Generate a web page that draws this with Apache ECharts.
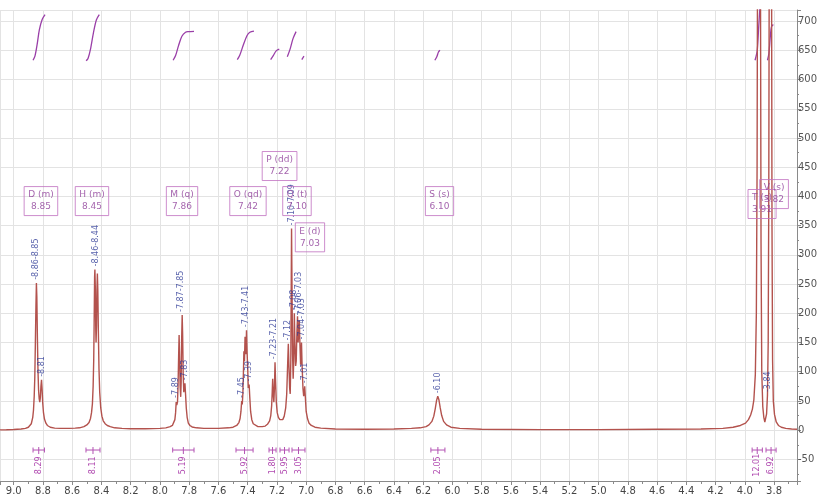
<!DOCTYPE html>
<html><head><meta charset="utf-8">
<script src="https://cdn.jsdelivr.net/npm/echarts@6.0.0/dist/echarts.min.js"></script>
<style>html,body{margin:0;padding:0;background:#fff}#c{width:821px;height:499px}</style>
</head><body><div id="c"></div>
<script>
// ---------- spectrum (ppm, intensity) ----------
const baseLeft = [[9.094,0.5],[9.05,0.8],[9.00,1.2],[8.95,2]];
const multD = [[8.92,3],[8.90,5],[8.88,11],[8.87,22],[8.865,34],[8.86,58],[8.856,90],[8.852,150],[8.848,215],[8.845,252],[8.842,228],[8.838,155],[8.834,100],[8.83,68],[8.826,54],[8.822,48],[8.818,56],[8.814,75],[8.81,86],[8.806,70],[8.802,47],[8.797,31],[8.79,19],[8.78,12],[8.77,8],[8.75,5],[8.72,3.5],[8.68,3],[8.62,3],[8.58,3.5]];
const multH = [[8.55,4],[8.52,6],[8.50,9],[8.485,13],[8.475,20],[8.468,30],[8.462,45],[8.457,75],[8.453,120],[8.45,185],[8.447,262],[8.445,275],[8.442,242],[8.439,172],[8.437,150],[8.434,178],[8.431,240],[8.428,268],[8.425,240],[8.421,165],[8.417,105],[8.412,65],[8.405,38],[8.397,24],[8.388,16],[8.375,11],[8.36,8],[8.34,6],[8.31,4],[8.26,3],[8.20,2.5],[8.10,2.5],[8.00,3],[7.96,4]];
const multM = [[7.93,6],[7.915,8],[7.905,11],[7.898,18],[7.893,30],[7.889,48],[7.885,43],[7.88,48],[7.876,78],[7.872,130],[7.869,163],[7.866,128],[7.862,75],[7.858,57],[7.855,82],[7.852,150],[7.848,197],[7.845,165],[7.841,95],[7.837,65],[7.833,68],[7.829,80],[7.825,62],[7.82,38],[7.814,22],[7.806,12],[7.795,8],[7.78,5.5],[7.75,4],[7.70,3],[7.60,3],[7.53,4]];
const multO = [[7.50,5],[7.475,8],[7.46,13],[7.452,20],[7.446,32],[7.441,50],[7.437,44],[7.433,62],[7.429,100],[7.426,135],[7.422,118],[7.418,160],[7.414,130],[7.411,140],[7.408,171],[7.404,132],[7.40,108],[7.396,72],[7.393,70],[7.39,78],[7.386,58],[7.38,32],[7.372,18],[7.362,11],[7.35,8],[7.33,6],[7.30,6],[7.28,7]];
const multP = [[7.265,10],[7.25,16],[7.242,25],[7.236,42],[7.232,66],[7.229,88],[7.225,63],[7.221,48],[7.217,72],[7.213,116],[7.209,82],[7.204,47],[7.198,30],[7.19,22],[7.18,18],[7.17,17]];
const multQE = [[7.16,18],[7.15,24],[7.14,38],[7.133,62],[7.127,110],[7.122,148],[7.118,112],[7.113,72],[7.109,62],[7.105,120],[7.102,255],[7.10,345],[7.097,250],[7.093,130],[7.089,88],[7.085,118],[7.081,200],[7.077,150],[7.072,110],[7.068,118],[7.063,170],[7.059,195],[7.055,150],[7.051,150],[7.047,188],[7.043,150],[7.038,112],[7.035,125],[7.032,150],[7.028,112],[7.022,72],[7.017,58],[7.013,66],[7.01,75],[7.006,58],[7.00,32],[6.99,19],[6.98,12],[6.965,8],[6.94,5],[6.90,3.5],[6.80,2],[6.60,1.5],[6.40,2],[6.28,3]];
const multS = [[6.22,4],[6.18,6],[6.16,9],[6.14,15],[6.127,24],[6.117,37],[6.108,51],[6.10,58],[6.092,52],[6.083,38],[6.073,25],[6.06,15],[6.04,9],[6.01,5],[5.95,3],[5.80,1.5],[5.40,1],[5.00,1],[4.60,1.5],[4.30,2]];
const multTV = [[4.15,3],[4.08,5],[4.03,8],[3.995,12],[3.975,18],[3.96,26],[3.948,36],[3.938,52],[3.928,95],[3.921,200],[3.916,450],[3.913,800],[3.909,1300],[3.903,1600],[3.897,1300],[3.893,800],[3.889,320],[3.884,100],[3.877,40],[3.87,22],[3.863,14],[3.857,16],[3.851,28],[3.845,60],[3.84,150],[3.836,400],[3.833,800],[3.829,1300],[3.825,1500],[3.821,1300],[3.817,800],[3.814,350],[3.81,120],[3.805,50],[3.797,27],[3.785,14],[3.77,8],[3.75,5],[3.72,3],[3.68,2],[3.643,1.5]];

// ---------- integral curves ----------
const intD = [[8.868,633],[8.855,640],[8.84,660],[8.825,685],[8.805,703],[8.786,711]];
const intH = [[8.505,632],[8.492,636],[8.475,652],[8.455,680],[8.435,702],[8.415,711]];
const intM = [[7.91,633],[7.893,641],[7.873,658],[7.85,674],[7.825,681],[7.805,682],[7.767,682.5]];
const intO = [[7.471,634],[7.455,641],[7.43,659],[7.405,675],[7.385,681],[7.357,683]];
const intP = [[7.243,634],[7.225,641],[7.205,649],[7.184,652]];
const intQ = [[7.129,639],[7.11,652],[7.09,670],[7.069,682]];
const intE = [[7.03,634],[7.015,640]];
const intS = [[6.12,633],[6.105,640],[6.095,647],[6.085,650]];
const intT = [[3.93,633],[3.915,650],[3.905,690],[3.895,730]];
const intV = [[3.845,633],[3.835,645],[3.825,675],[3.818,690],[3.805,694]];

// ---------- integration ranges and values ----------
const intRanges = [[8.868,8.79],[8.506,8.41],[7.913,7.767],[7.48,7.363],[7.254,7.206],[7.179,7.117],[7.097,7.008],[6.147,6.051],[3.95,3.88],[3.855,3.786]];
const intValues = ['8.29','8.11','5.19','5.92','1.80','5.95','3.05','2.05','12.01','6.92'];

// ---------- peak labels ----------
const peakPpm = [8.846,8.81,8.437,7.889,7.858,7.829,7.441,7.412,7.39,7.221,7.122,7.100,7.081,7.047,7.032,7.010,6.10,3.84];
const peakHeight = [252,86,275,50,197,80,50,171,78,116,148,345,200,195,150,75,58,60];
const peakText = ['-8.86-8.85','-8.81','-8.46-8.44','-7.89','-7.87-7.85','-7.83','-7.45','-7.43-7.41','-7.39','-7.23-7.21','-7.12','-7.10-7.09','-7.08','-7.06-7.03','-7.04-7.03','-7.01','-6.10','-3.84'];

// ---------- multiplets ----------
const multNames = ['D (m)','H (m)','M (q)','O (qd)','P (dd)','Q (t)','E (d)','S (s)','T (s)','V (s)'];
const multShifts = ['8.85','8.45','7.86','7.42','7.22','7.10','7.03','6.10','3.91','3.82'];

// ---------- axis ticks ----------
const xTickStep = 0.2;
const yTickStep = 50;

// layout (label box anchors, in axis units)
const boxAnchor = [[8.814,392],[8.465,392],[7.849,392],[7.398,392],[7.182,452],[7.063,392],[6.974,330],[6.088,392],[3.882,387],[3.800,404]];
const BRACKET_V = -34, LABEL_V = -60;

const spectrum = [].concat(baseLeft, multD, multH, multM, multO, multP, multQE, multS, multTV);
const integrals = [intD,intH,intM,intO,intP,intQ,intE,intS,intT,intV];

const FONT = 'DejaVu Sans';
const chart = echarts.init(document.getElementById('c'));
const series = [{
  type:'line', data: spectrum, showSymbol:false, symbol:'none', clip:true, z:3,
  lineStyle:{color:'#b3524d', width:1.4}, animation:false
}];
integrals.forEach(d => series.push({
  type:'line', data:d, showSymbol:false, symbol:'none', clip:true, smooth:0.3, z:2,
  lineStyle:{color:'#9a3fa8', width:1.3}, animation:false
}));
series.push({
  type:'custom', data: intRanges, z:4, animation:false,
  renderItem: function(params, api){
    const a = api.coord([api.value(0), BRACKET_V]);
    const b = api.coord([api.value(1), BRACKET_V]);
    const y = a[1], xm = (a[0]+b[0])/2;
    const l = api.coord([(api.value(0)+api.value(1))/2, LABEL_V]);
    const st = {stroke:'#b352b3', lineWidth:1};
    return {type:'group', children:[
      {type:'line', shape:{x1:a[0],y1:y,x2:b[0],y2:y}, style:st},
      {type:'line', shape:{x1:a[0],y1:y-2.5,x2:a[0],y2:y+2.5}, style:st},
      {type:'line', shape:{x1:b[0],y1:y-2.5,x2:b[0],y2:y+2.5}, style:st},
      {type:'line', shape:{x1:xm,y1:y-3,x2:xm,y2:y+4}, style:st},
      {type:'text', x:l[0], y:l[1], rotation:Math.PI/2,
       style:{text:intValues[params.dataIndex], fill:'#b04ab0', font:'8px '+FONT, align:'center', verticalAlign:'middle'}}
    ]};
  }
});
series.push({
  type:'scatter', data: peakPpm.map((p,i)=>[p, peakHeight[i]]), symbolSize:0.1, z:5, animation:false,
  label:{show:true, position:'top', distance:3, rotate:90, align:'left', verticalAlign:'middle',
    formatter: p => peakText[p.dataIndex], fontSize:8, color:'#2d3a96', fontFamily:FONT}
});
series.push({
  type:'scatter', data: boxAnchor, symbolSize:0.1, z:6, animation:false,
  label:{show:true, position:'inside', formatter: p => multNames[p.dataIndex]+'\n'+multShifts[p.dataIndex],
    fontSize:9, lineHeight:12, color:'#8d3c99', fontFamily:FONT, align:'center', verticalAlign:'middle',
    borderColor:'#c070c0', borderWidth:1, padding:[3,4,2,4]}
});

chart.setOption({
  animation:false,
  backgroundColor:'#fff',
  grid:{left:0, right:24, top:10, bottom:18, containLabel:false, outerBoundsMode:'none'},
  xAxis:{type:'value', inverse:true, min:3.643, max:9.094, splitNumber: Math.round((9.094-3.643)/xTickStep),
    axisLine:{show:true, onZero:false, lineStyle:{color:'#8a8a8a'}},
    axisTick:{show:true, length:4, lineStyle:{color:'#8a8a8a'}},
    minorTick:{show:true, splitNumber:2, length:3, lineStyle:{color:'#8a8a8a'}},
    axisLabel:{showMinLabel:false, showMaxLabel:false, fontSize:10, color:'#444', margin:5, fontFamily:FONT,
      formatter: v => v.toFixed(1)},
    splitLine:{show:true, lineStyle:{color:'#e3e3e3'}}
  },
  yAxis:{type:'value', position:'right', min:-87, max:719, splitNumber: Math.round(806/yTickStep),
    axisLine:{show:true, lineStyle:{color:'#8a8a8a'}},
    axisTick:{show:true, length:4, lineStyle:{color:'#8a8a8a'}},
    minorTick:{show:true, splitNumber:2, length:2, lineStyle:{color:'#8a8a8a'}},
    axisLabel:{showMinLabel:false, showMaxLabel:false, fontSize:10, color:'#555', margin:1, fontFamily:FONT},
    splitLine:{show:true, lineStyle:{color:'#e3e3e3'}}
  },
  series: series
});
</script></body></html>
